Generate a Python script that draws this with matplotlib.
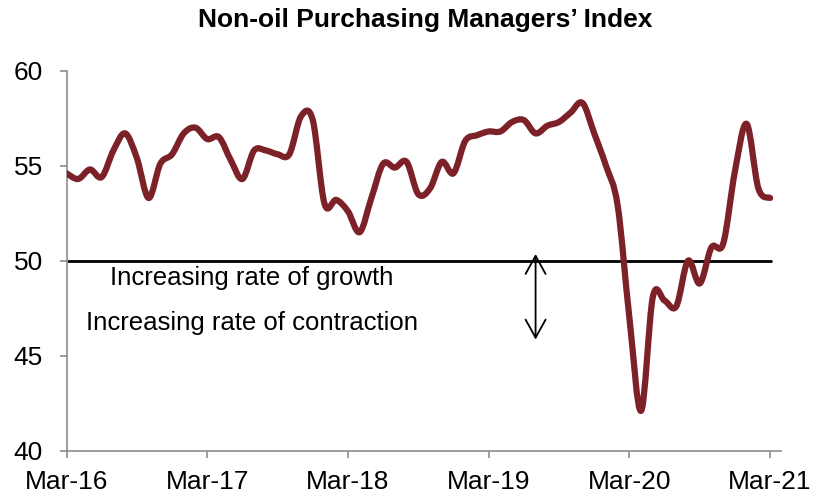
import numpy as np
import pandas as pd
import matplotlib
matplotlib.use("Agg")
import matplotlib.pyplot as plt
from matplotlib.path import Path
from matplotlib.patches import PathPatch

plt.rcParams["font.family"] = ["Liberation Sans", "DejaVu Sans"]

# Monthly non-oil PMI, Mar-16 .. Mar-21
months = pd.date_range("2016-03-01", "2021-03-01", freq="MS")
pmi_2016 = [54.6, 54.3, 54.8, 54.4, 55.8, 56.7, 55.4, 53.3, 55.1, 55.6]
pmi_2017 = [56.7, 57.0, 56.4, 56.5, 55.3, 54.3, 55.8, 55.8, 55.6, 55.6, 57.6, 57.4]
pmi_2018 = [53.0, 53.2, 52.6, 51.5, 53.3, 55.1, 54.9, 55.2, 53.5, 53.8, 55.2, 54.6]
pmi_2019 = [56.3, 56.6, 56.8, 56.8, 57.3, 57.4, 56.7, 57.1, 57.3, 57.8, 58.3, 56.7]
pmi_2020 = [55.0, 52.9, 47.0, 42.1, 48.1, 47.9, 47.6, 50.0, 48.8, 50.7, 50.9, 54.7]
pmi_2021 = [57.2, 53.8, 53.3]
pmi = pmi_2016 + pmi_2017 + pmi_2018 + pmi_2019 + pmi_2020 + pmi_2021

x = np.arange(len(months))
y = np.array(pmi)

# smoothed line (Excel-style) built as cubic Bezier segments through the points
pts = np.column_stack([x, y]).astype(float)
ext = np.vstack([pts[0], pts, pts[-1]])
verts = [pts[0]]
codes = [Path.MOVETO]
for i in range(len(pts) - 1):
    p0, p1, p2, p3 = ext[i], ext[i + 1], ext[i + 2], ext[i + 3]
    verts += [p1 + (p2 - p0) / 6, p2 - (p3 - p1) / 6, p2]
    codes += [Path.CURVE4] * 3

fig = plt.figure(figsize=(8.16, 4.97), dpi=100)
ax = fig.add_axes([0.0815, 0.0932, 0.8752, 0.7646])

ax.add_patch(PathPatch(Path(verts, codes), fill=False, edgecolor="#7C2128",
                       lw=4.5, capstyle="round", joinstyle="round", zorder=3))

ax.hlines(50, x[0], x[-1] + 0.2, colors="black", lw=2, zorder=2)

ax.annotate("", xy=(40, 50.35), xytext=(40, 45.85),
            arrowprops=dict(arrowstyle="<->,head_length=0.65,head_width=0.36",
                            lw=1.3, color="black", mutation_scale=20,
                            shrinkA=0, shrinkB=0))

ax.text(15.8, 49.1, "Increasing rate of growth", ha="center", va="center", fontsize=18.5)
ax.text(15.8, 46.7, "Increasing rate of contraction", ha="center", va="center", fontsize=18.5)

ax.set_xlim(0, 60.9)
ax.set_ylim(40, 60)
ax.set_yticks([40, 45, 50, 55, 60])
ax.set_xticks(x[::12])
ax.set_xticklabels(months[::12].strftime("%b-%y"))

for s in ["top", "right"]:
    ax.spines[s].set_visible(False)
for s in ["left", "bottom"]:
    ax.spines[s].set_color("#8c8c8c")
    ax.spines[s].set_linewidth(1.2)
ax.tick_params(axis="y", length=5, width=1.2, color="#8c8c8c", pad=12, labelsize=19)
ax.tick_params(axis="x", length=5, width=1.2, color="#8c8c8c", pad=9, labelsize=19)

fig.text(0.5214, 0.96, "Non-oil Purchasing Managers\u2019 Index", ha="center", va="center",
         fontsize=19, fontweight="bold")

fig.savefig("out.png", dpi=100)
